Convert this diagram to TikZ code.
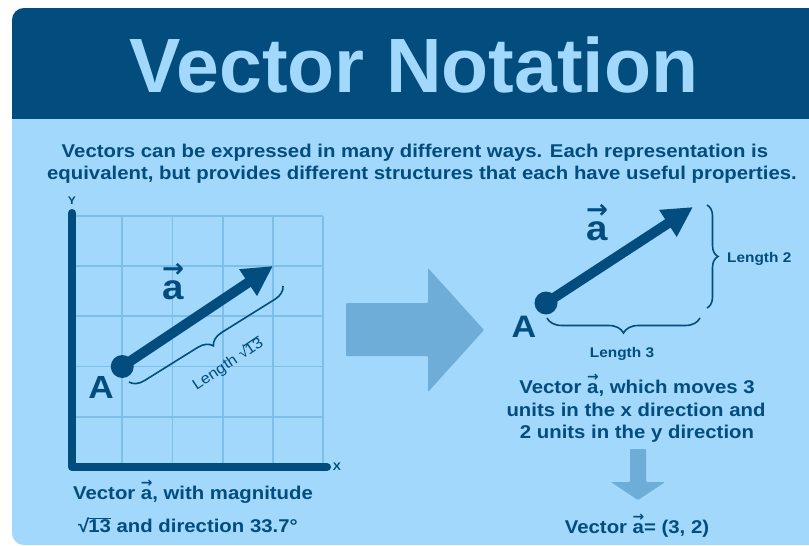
\documentclass[tikz,border=0pt]{standalone}
\usepackage{fontspec}
\setmainfont[FakeStretch=1.1]{Liberation Sans}
\newfontfamily\titlefont{Liberation Sans}
\newfontfamily\dejavu{DejaVu Sans}
\usepackage{graphicx}
\usetikzlibrary{arrows.meta,decorations.pathreplacing}
\definecolor{dk}{HTML}{034D7E}
\definecolor{lt}{HTML}{A1D8FC}
\definecolor{gridc}{HTML}{7EBFE8}
\definecolor{arr}{HTML}{6DADD8}
\newcommand\va{{\ooalign{a\cr\hidewidth\raisebox{0.62em}{\scalebox{0.75}[0.75]{\dejavu\bfseries →}}\hidewidth\cr}}}
\newcommand\rt[1]{√\kern-0.06em\setbox0=\hbox{#1}\rlap{\rule[0.68em]{\wd0}{0.075em}}\box0\relax}
\tikzset{
  txt/.style={text=dk, font=\fontsize{18.5}{22}\selectfont\bfseries, inner sep=0, anchor=base},
  small/.style={text=dk, font=\fontsize{14}{14}\selectfont\bfseries, inner sep=0, anchor=base},
  vecline/.style={line width=10pt, draw=dk, -{Triangle[length=30pt,width=30pt]}},
  brc/.style={decorate, decoration={brace, amplitude=#1}, draw=dk, line width=1.6pt},
  gridline/.style={draw=gridc, line width=1.8pt},
  axis/.style={draw=dk, line width=8pt, line cap=round, line join=round},
  bigarrow/.style={fill=arr, rounded corners=1pt},
}
\begin{document}
\begin{tikzpicture}[x=1pt,y=-1pt]
\useasboundingbox (0,0) rectangle (809,546);
\clip (0,0) rectangle (809,546);
\fill[white] (0,0) rectangle (809,546);
\fill[lt, rounded corners=12pt] (12,8) rectangle (840,545);
\begin{scope}
  \clip[rounded corners=12pt] (12,8) rectangle (840,545);
  \fill[dk] (0,0) rectangle (840,119);
\end{scope}
\node[font=\titlefont\fontsize{77}{80}\selectfont\bfseries, text=lt, anchor=base, inner sep=0] (title) at (414,92) {Vector Notation};
\node[txt] (sub1) at (415,157) {Vectors can be expressed in many different ways. Each representation is};
\node[txt] (sub2) at (422,179) {equivalent, but provides different structures that each have useful properties.};

% grid
\foreach \i in {1,...,5} {
  \draw[gridline] (72+50.25*\i,467) -- (72+50.25*\i,216);
  \draw[gridline] (72,467-50.25*\i) -- (323.25,467-50.25*\i);
}
\draw[axis] (72,213) -- (72,467) -- (327,467);
\node[text=dk, font=\fontsize{11}{11}\selectfont\bfseries, inner sep=0] (ylab) at (72,201) {Y};
\node[text=dk, font=\fontsize{11}{11}\selectfont\bfseries, inner sep=0] (xlab) at (337,467) {X};

% left vector
\coordinate (A1) at (122.25,366.5);
\coordinate (B1) at (273,266);
\draw[vecline] (A1) -- (B1);
\fill[dk] (A1) circle (11.5pt);
\node[text=dk, font=\fontsize{32}{32}\selectfont\bfseries, inner sep=0, anchor=base] (Alab1) at (101,398) {A};
\node[text=dk, font=\fontsize{35}{35}\selectfont\bfseries, inner sep=0, anchor=base] (alab1) at (173,299) {\va};
\coordinate (b1s) at (283,286);
\coordinate (b1e) at (129,382);
\draw[brc=14pt] (b1s) -- (b1e);
\node[rotate=33.7, text=dk, font=\fontsize{15}{15}\selectfont, inner sep=0] (len13) at (228,364) {Length \rt{13}};

% middle arrow
\fill[bigarrow] (346,303) -- (428,303) -- (428,268) -- (484,330) -- (428,392) -- (428,356) -- (346,356) -- cycle;

% right vector
\coordinate (A2) at (546,303);
\coordinate (B2) at (693,207);
\draw[vecline] (A2) -- (B2);
\fill[dk] (A2) circle (11.5pt);
\node[text=dk, font=\fontsize{31}{31}\selectfont\bfseries, inner sep=0, anchor=base] (Alab2) at (524,337) {A};
\node[text=dk, font=\fontsize{35}{35}\selectfont\bfseries, inner sep=0, anchor=base] (alab2) at (597,240) {\va};
\coordinate (b2s) at (707,205);
\coordinate (b2e) at (707,308);
\draw[brc=11pt] (b2s) -- (b2e);
\coordinate (b3s) at (700,318);
\coordinate (b3e) at (547,318);
\draw[brc=15pt] (b3s) -- (b3e);
\node[small, anchor=base west] (len2) at (727,262) {Length 2};
\node[small] (len3) at (622,357) {Length 3};

% captions
\node[txt] (capl1) at (193,499) {Vector \va, with magnitude};
\node[txt] (capl2) at (188,532) {\rt{13} and direction 33.7°};
\node[txt] (capr1) at (637,393) {Vector \va, which moves 3};
\node[txt] (capr2) at (636,416) {units in the x direction and};
\node[txt] (capr3) at (637,438) {2 units in the y direction};
\fill[bigarrow] (630,449) -- (646,449) -- (646,482) -- (665,482) -- (638,500) -- (611,482) -- (630,482) -- cycle;
\node[txt] (capr4) at (637,533) {Vector \va= (3, 2)};
\end{tikzpicture}
\end{document}
